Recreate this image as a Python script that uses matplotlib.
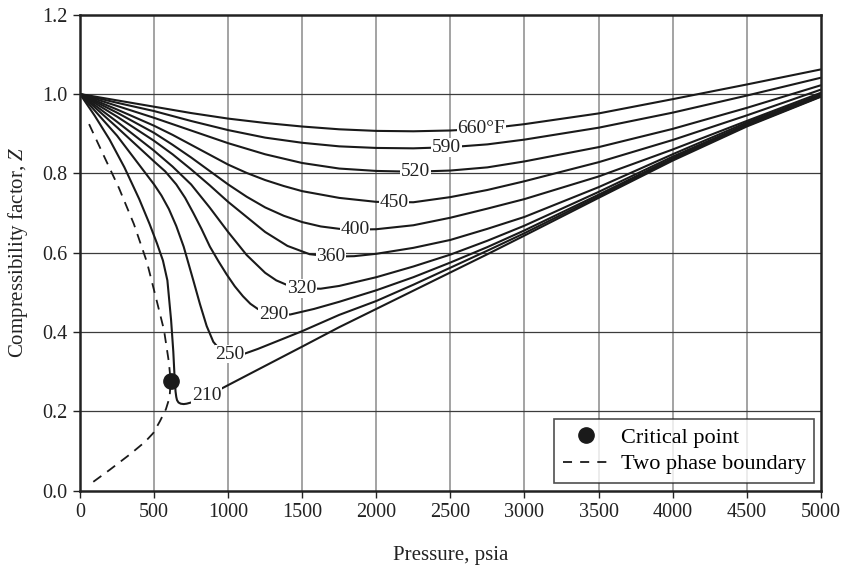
import numpy as np
import matplotlib
matplotlib.use("Agg")
import matplotlib.pyplot as plt
from matplotlib.lines import Line2D

plt.rcParams["font.family"] = ["Liberation Serif", "DejaVu Serif"]
plt.rcParams["mathtext.fontset"] = "custom"
plt.rcParams["mathtext.it"] = "Liberation Serif:italic"
plt.rcParams["mathtext.rm"] = "Liberation Serif"

# Isotherms of Z versus pressure (psia); each temperature has its own readings
temps = [660, 590, 520, 450, 400, 360, 320, 290, 250, 210]
label_p = [2709, 2476, 2267, 2119, 1856, 1694, 1498, 1309, 1012, 857]
label_text = ["660°F", "590", "520", "450", "400", "360", "320", "290", "250", "210"]

p_660 = [0, 250, 500, 750, 1000, 1250, 1500, 1750, 2000, 2250, 2500, 2750, 3000, 3500, 4000, 4500, 5000]
z_660 = [1.0, 0.984, 0.968, 0.952, 0.938, 0.927, 0.918, 0.911, 0.907, 0.906, 0.908, 0.913, 0.924, 0.951, 0.987, 1.024, 1.062]

p_590 = [0, 250, 500, 750, 1000, 1250, 1500, 1750, 2000, 2250, 2500, 2750, 3000, 3500, 4000, 4500, 5000]
z_590 = [1.0, 0.978, 0.957, 0.932, 0.909, 0.890, 0.877, 0.868, 0.864, 0.863, 0.866, 0.873, 0.885, 0.915, 0.953, 0.996, 1.041]

p_520 = [0, 250, 500, 750, 1000, 1250, 1500, 1750, 2000, 2250, 2500, 2750, 3000, 3500, 4000, 4500, 5000]
z_520 = [1.0, 0.970, 0.940, 0.908, 0.876, 0.848, 0.826, 0.812, 0.806, 0.804, 0.807, 0.815, 0.830, 0.866, 0.912, 0.965, 1.022]

p_450 = [0, 250, 500, 625, 750, 875, 1000, 1125, 1250, 1375, 1500, 1750, 2000, 2250, 2500, 2750, 3000, 3500, 4000, 4500, 5000]
z_450 = [1.0, 0.961, 0.920, 0.897, 0.872, 0.847, 0.822, 0.801, 0.783, 0.768, 0.755, 0.738, 0.728, 0.727, 0.740, 0.758, 0.780, 0.828, 0.884, 0.946, 1.011]

p_400 = [0, 250, 500, 625, 750, 875, 1000, 1125, 1250, 1375, 1500, 1625, 1750, 1875, 2000, 2250, 2500, 2750, 3000, 3500, 4000, 4500, 5000]
z_400 = [1.0, 0.953, 0.902, 0.872, 0.840, 0.806, 0.772, 0.741, 0.714, 0.693, 0.677, 0.666, 0.660, 0.658, 0.659, 0.669, 0.688, 0.711, 0.735, 0.792, 0.860, 0.932, 1.003]

p_360 = [0, 250, 500, 625, 750, 875, 1000, 1125, 1250, 1400, 1550, 1700, 1850, 2000, 2250, 2500, 2750, 3000, 3500, 4000, 4500, 5000]
z_360 = [1.0, 0.943, 0.882, 0.848, 0.810, 0.770, 0.728, 0.690, 0.652, 0.617, 0.596, 0.590, 0.591, 0.597, 0.612, 0.632, 0.660, 0.690, 0.765, 0.848, 0.928, 0.999]

p_320 = [0, 250, 500, 625, 750, 875, 1000, 1125, 1250, 1325, 1400, 1500, 1625, 1750, 2000, 2250, 2500, 2750, 3000, 3500, 4000, 4500, 5000]
z_320 = [1.0, 0.930, 0.857, 0.817, 0.772, 0.714, 0.652, 0.594, 0.549, 0.530, 0.518, 0.510, 0.509, 0.516, 0.538, 0.565, 0.595, 0.630, 0.668, 0.753, 0.842, 0.924, 0.997]

p_290 = [0, 250, 500, 575, 650, 710, 765, 820, 877, 935, 990, 1045, 1100, 1150, 1200, 1255, 1309, 1420, 1580, 1750, 2000, 2250, 2500, 2750, 3000, 3500, 4000, 4500, 5000]
z_290 = [1.0, 0.916, 0.830, 0.805, 0.772, 0.738, 0.700, 0.660, 0.615, 0.578, 0.545, 0.515, 0.490, 0.471, 0.458, 0.449, 0.445, 0.444, 0.458, 0.476, 0.505, 0.538, 0.575, 0.614, 0.656, 0.746, 0.838, 0.922, 0.995]

p_250 = [0, 250, 500, 550, 600, 650, 700, 765, 810, 855, 900, 950, 1012, 1110, 1200, 1300, 1400, 1500, 1750, 2000, 2250, 2500, 2750, 3000, 3500, 4000, 4500, 5000]
z_250 = [1.0, 0.895, 0.772, 0.744, 0.710, 0.667, 0.615, 0.530, 0.470, 0.415, 0.375, 0.353, 0.344, 0.345, 0.357, 0.372, 0.387, 0.402, 0.443, 0.478, 0.519, 0.562, 0.605, 0.649, 0.742, 0.835, 0.920, 0.994]

p_210 = [0, 100, 200, 300, 400, 470, 520, 560, 590, 615, 630, 638, 645, 650, 655, 665, 680, 700, 720, 760, 857, 960, 1150, 1500, 1750, 2000, 2250, 2500, 2750, 3000, 3500, 4000, 4500, 5000]
z_210 = [1.0, 0.945, 0.885, 0.815, 0.735, 0.672, 0.623, 0.580, 0.530, 0.430, 0.350, 0.290, 0.250, 0.236, 0.228, 0.222, 0.219, 0.218, 0.219, 0.223, 0.240, 0.258, 0.295, 0.363, 0.412, 0.458, 0.504, 0.550, 0.596, 0.643, 0.738, 0.832, 0.918, 0.993]

curves = {
    660: (p_660, z_660), 590: (p_590, z_590), 520: (p_520, z_520),
    450: (p_450, z_450), 400: (p_400, z_400), 360: (p_360, z_360),
    320: (p_320, z_320), 290: (p_290, z_290), 250: (p_250, z_250),
    210: (p_210, z_210),
}

# Two-phase envelope: bubble-point branch up to the critical point, then dew branch
p_boundary = [90, 200, 340, 440, 495, 540, 580, 605, 612, 600, 567, 513, 452, 364, 263, 155, 54]
z_boundary = [0.022, 0.052, 0.092, 0.123, 0.145, 0.175, 0.205, 0.235, 0.276, 0.324, 0.405, 0.486, 0.576, 0.672, 0.763, 0.849, 0.930]

p_critical = 612
z_critical = 0.276

fig = plt.figure(figsize=(8.48, 5.68), dpi=100)
ax = fig.add_axes([0.0943, 0.1364, 0.8736, 0.8377])

ax.set_xlim(0, 5000)
ax.set_ylim(0, 1.2)
ax.set_xticks(np.arange(0, 5001, 500))
ax.set_yticks(np.arange(0, 1.21, 0.2))
ax.set_yticklabels([f"{v:.1f}" for v in np.arange(0, 1.21, 0.2)])

for xv in np.arange(500, 5000, 500):
    ax.axvline(xv, color="#8a8a8a", lw=1.1, zorder=0)
for yv in np.arange(0.2, 1.2, 0.2):
    ax.axhline(yv, color="#3c3c3c", lw=0.9, zorder=0)

for t in temps:
    p, z = curves[t]
    ax.plot(p, z, color="#1a1a1a", lw=1.5, zorder=2,
            solid_joinstyle="round", solid_capstyle="round")

ax.plot(p_boundary, z_boundary, color="#1a1a1a", lw=1.3, ls=(0, (5.5, 4)), zorder=2)
ax.plot([p_critical], [z_critical], "o", color="#1a1a1a", ms=11, zorder=3)

for t, lp, txt in zip(temps, label_p, label_text):
    p, z = curves[t]
    lz = np.interp(lp, p, z)
    ax.text(lp, lz, txt, ha="center", va="center", fontsize=14, color="#222222",
            zorder=4, bbox=dict(facecolor="white", edgecolor="none", pad=0.5))

for s in ax.spines.values():
    s.set_linewidth(1.8)
    s.set_color("#222222")
ax.tick_params(direction="out", length=5, width=1.0, colors="#222222",
               labelsize=14.5, pad=4)

ax.set_xlabel("Pressure, psia", fontsize=15, labelpad=17, color="#222222")
ax.set_ylabel("Compressibility factor, $Z$", fontsize=15, labelpad=9, color="#222222")

handles = [
    Line2D([], [], marker="o", ls="none", color="#1a1a1a", ms=11),
    Line2D([], [], color="#1a1a1a", lw=1.3, ls=(0, (5, 4.5))),
]
leg = ax.legend(handles, ["Critical point", "Two phase boundary"], loc="lower right",
                bbox_to_anchor=(0.991, 0.016), borderaxespad=0, fontsize=16,
                frameon=True, fancybox=False, edgecolor="#222222",
                handlelength=2.1, handletextpad=0.5, borderpad=0.38,
                labelspacing=0.28)
leg.get_frame().set_linewidth(1.2)
leg.set_zorder(5)

fig.savefig("out.png", dpi=100)
